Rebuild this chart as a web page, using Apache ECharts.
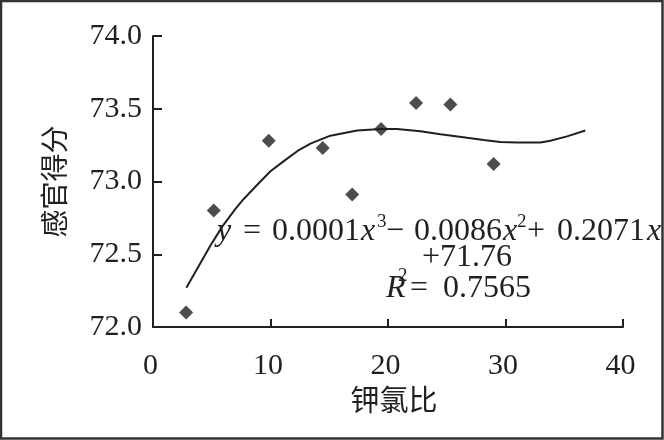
<!DOCTYPE html>
<html><head><meta charset="utf-8">
<script src="https://cdn.jsdelivr.net/npm/echarts@6/dist/echarts.min.js"></script>
<style>html,body{margin:0;padding:0;background:#fff}#c{width:664px;height:440px}</style>
</head><body><div id="c"></div>
<script>
// Observed points (钾氯比 vs 感官得分)
const ratioX = [2.82, 5.17, 9.85, 14.44, 16.95, 19.41, 22.39, 25.31, 28.99];
const scoreY = [72.10, 72.80, 73.28, 73.23, 72.91, 73.36, 73.54, 73.53, 73.12];
// Trend curve
const fitX = [2.84, 4.04, 4.89, 5.89, 7.00, 7.72, 9.14, 10.0, 11.13, 12.3, 13.40, 15.10, 17.37, 19.41, 20.77, 22.76, 24.46, 26.73, 28.14, 29.56, 30.98, 32.96, 33.82, 35.24, 36.79];
const fitY = [72.27, 72.44, 72.56, 72.69, 72.81, 72.88, 73.00, 73.07, 73.14, 73.21, 73.26, 73.315, 73.35, 73.36, 73.36, 73.345, 73.325, 73.30, 73.285, 73.272, 73.268, 73.268, 73.28, 73.31, 73.35];
const xTickValues = [0, 10, 20, 30, 40];
const yTickValues = [72.0, 72.5, 73.0, 73.5, 74.0];
const xName = '钾氯比';
const yName = '感官得分';

const INK = '#231f20';
const SERIF = '"Liberation Serif","Times New Roman",serif';
const CJK = '"Noto Sans CJK SC","Noto Sans CJK JP",sans-serif';

function seg(text, x, y, o) {
  o = o || {};
  return {
    type: 'text', x: x, y: y, silent: true,
    style: {
      text: text, fill: INK,
      font: (o.italic ? 'italic ' : '') + (o.size || 32) + 'px ' + SERIF,
      align: o.align || 'left', verticalAlign: 'middle'
    }
  };
}

const L1 = 232, L2 = 258, L3 = 289;
const eq = [
  seg('y', 217, L1, {italic: true}),
  seg('=', 243, L1),
  seg('0.0001', 316, L1, {align: 'center'}),
  seg('x', 361, L1, {italic: true}),
  seg('3', 377, L1 - 10, {size: 19}),
  seg('\u2212', 386, L1),
  seg('0.0086', 458, L1, {align: 'center'}),
  seg('x', 503, L1, {italic: true}),
  seg('2', 517, L1 - 10, {size: 19}),
  seg('+', 527, L1),
  seg('0.2071', 601, L1, {align: 'center'}),
  seg('x', 647, L1, {italic: true}),
  seg('+71.76', 467, L2, {align: 'center'}),
  seg('R', 386, L3, {italic: true}),
  seg('2', 398, L3 - 13, {size: 19}),
  seg('=', 410, L3),
  seg('0.7565', 487, L3, {align: 'center'})
];

const chart = echarts.init(document.getElementById('c'), null, {renderer: 'canvas'});
chart.setOption({
  animation: false,
  backgroundColor: '#fff',
  grid: {left: 153, right: 41, top: 36, bottom: 113, containLabel: false},
  xAxis: {
    type: 'value', min: xTickValues[0], max: xTickValues[xTickValues.length - 1], interval: 10,
    name: xName, nameLocation: 'middle', nameGap: 58,
    nameTextStyle: {fontFamily: CJK, fontSize: 29, color: INK, padding: [0, 0, 0, 12]},
    axisLine: {show: true, onZero: false, lineStyle: {color: INK, width: 2}},
    axisTick: {show: true, inside: true, length: 8, lineStyle: {color: INK, width: 2}},
    axisLabel: {fontFamily: SERIF, fontSize: 30, color: INK, margin: 24, padding: [0, 5, 0, 0]},
    splitLine: {show: false}
  },
  yAxis: {
    type: 'value', min: yTickValues[0], max: yTickValues[yTickValues.length - 1], interval: 0.5,
    name: yName, nameLocation: 'middle', nameGap: 85, nameRotate: 90,
    nameTextStyle: {fontFamily: CJK, fontSize: 28, color: INK},
    axisLine: {show: true, lineStyle: {color: INK, width: 2}},
    axisTick: {show: true, inside: true, length: 9, lineStyle: {color: INK, width: 2}},
    axisLabel: {fontFamily: SERIF, fontSize: 30, color: INK, margin: 11, padding: [5, 0, 0, 0],
      formatter: v => v.toFixed(1)},
    splitLine: {show: false}
  },
  series: [
    {
      type: 'line', data: fitX.map((x, i) => [x, fitY[i]]),
      showSymbol: false, symbol: 'none', smooth: false,
      lineStyle: {color: INK, width: 2}, z: 2
    },
    {
      type: 'scatter', data: ratioX.map((x, i) => [x, scoreY[i]]),
      symbol: 'diamond', symbolSize: [14, 14],
      itemStyle: {color: INK}, z: 3
    }
  ],
  graphic: [
    {type: 'rect', silent: true, shape: {x: 1, y: 1, width: 661.5, height: 437.5},
     style: {fill: 'none', stroke: '#333', lineWidth: 2.5}, z: 100},
    {type: 'group', children: eq, z: 50}
  ]
});
</script></body></html>
